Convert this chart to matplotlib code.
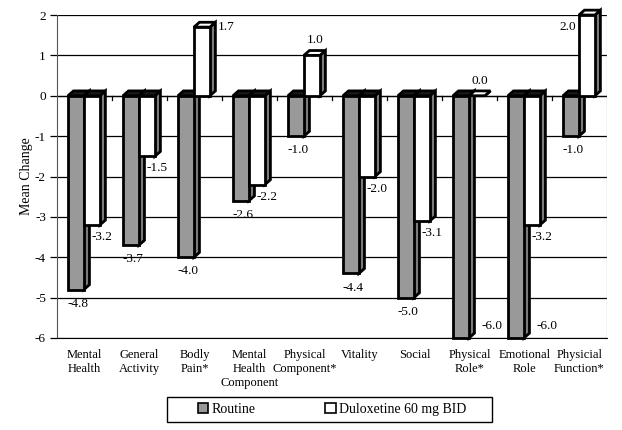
import matplotlib
matplotlib.use('Agg')
from matplotlib import pyplot as plt
from matplotlib.patches import Polygon, Rectangle, Patch

plt.rcParams['font.family'] = ['Liberation Serif', 'DejaVu Serif']

categories = ['Mental\nHealth', 'General\nActivity', 'Bodly\nPain*', 'Mental\nHealth\nComponent',
              'Physical\nComponent*', 'Vitality', 'Social', 'Physical\nRole*', 'Emotional\nRole',
              'Physicial\nFunction*']
routine = [-4.8, -3.7, -4.0, -2.6, -1.0, -4.4, -5.0, -6.0, -6.0, -1.0]
duloxetine = [-3.2, -1.5, 1.7, -2.2, 1.0, -2.0, -3.1, 0.0, -3.2, 2.0]
series_names = ['Routine', 'Duloxetine 60 mg BID']
y_ticks = [2, 1, 0, -1, -2, -3, -4, -5, -6]

GRAY = '#999999'
SIDE = '#7a7a7a'
BAR_W = 0.29
DX, DY = 0.1, 0.12   # fake 3d depth


def draw_bar(ax, x0, v, face):
    top = max(v, 0)
    bot = min(v, 0)
    kw = dict(edgecolor='black', linewidth=2.0, joinstyle='miter', clip_on=False)
    # side face
    ax.add_patch(Polygon([(x0 + BAR_W, bot), (x0 + BAR_W, top), (x0 + BAR_W + DX, top + DY),
                          (x0 + BAR_W + DX, bot + DY)], facecolor=SIDE, zorder=3, **kw))
    # top face
    top_color = '#1a1a1a' if v < 0 else 'white'
    ax.add_patch(Polygon([(x0, top), (x0 + BAR_W, top), (x0 + BAR_W + DX, top + DY),
                          (x0 + DX, top + DY)], facecolor=top_color, zorder=3, **kw))
    # front face
    if v != 0:
        ax.add_patch(Rectangle((x0, bot), BAR_W, top - bot, facecolor=face, zorder=3, **kw))


fig = plt.figure(figsize=(6.22, 4.30), dpi=100)
ax = fig.add_axes([57 / 622, 1 - 338 / 430, 550 / 622, 323 / 430])

ax.set_xlim(0, len(categories))
ax.set_ylim(-6, 2)
ax.set_yticks(y_ticks)
ax.set_yticklabels([str(t) for t in y_ticks], fontsize=9.5)
ax.grid(axis='y', color='black', linewidth=0.9)
ax.set_axisbelow(True)
ax.tick_params(axis='y', length=5, width=0.9, pad=3)

ax.set_xticks([i + 0.5 for i in range(len(categories))])
ax.set_xticklabels(categories, fontsize=9, linespacing=1.2)
ax.tick_params(axis='x', length=0, pad=8)

for side in ['top', 'right']:
    ax.spines[side].set_visible(False)
ax.spines['left'].set_color('#555555')
ax.spines['bottom'].set_color('black')
ax.axvline(len(categories), color='#aaaaaa', linewidth=0.9)

# zero line with category ticks
ax.axhline(0, color='black', linewidth=0.9, zorder=2)
for i in range(1, len(categories)):
    ax.plot([i, i], [0, -0.1], color='black', linewidth=0.9, zorder=2)

ax.set_ylabel('Mean Change', fontsize=10, labelpad=1)

for i in range(len(categories)):
    xg = i + 0.2
    xw = xg + BAR_W
    draw_bar(ax, xg, routine[i], GRAY)
    draw_bar(ax, xw, duloxetine[i], 'white')

    r = routine[i]
    if r <= -6:
        ax.text(xg + BAR_W + DX + 0.12, r + 0.3, '%.1f' % r, fontsize=9.5, ha='left', va='center', zorder=5)
    else:
        ax.text(xg + BAR_W / 2 + 0.03, r - 0.35, '%.1f' % r, fontsize=9.5, ha='center', va='center', zorder=5)

    d = duloxetine[i]
    if d < 0:
        ax.text(xw + BAR_W / 2, d - 0.3, '%.1f' % d, fontsize=9.5, ha='left', va='center', zorder=5)
    elif d >= 2:
        ax.text(xw - 0.05, d - 0.29, '%.1f' % d, fontsize=9.5, ha='right', va='center', zorder=5)
    elif d > 1.5:
        ax.text(xw + BAR_W + DX + 0.05, d, '%.1f' % d, fontsize=9.5, ha='left', va='center', zorder=5)
    else:
        ax.text(xw + BAR_W / 2 + 0.05, d + 0.37, '%.1f' % d, fontsize=9.5, ha='center', va='center', zorder=5)

# legend with its own box
fig.patches.append(Rectangle((167 / 622, 1 - 422 / 430), 325 / 622, 25 / 430,
                             transform=fig.transFigure, facecolor='white', edgecolor='black',
                             linewidth=1.0))
handles = [Patch(facecolor=GRAY, edgecolor='black', linewidth=1.2),
           Patch(facecolor='white', edgecolor='black', linewidth=1.2)]
fig.legend(handles, series_names, loc='center', bbox_to_anchor=(332 / 622, 1 - 409.5 / 430),
           ncol=2, frameon=False, fontsize=10, handlelength=0.75, handleheight=0.75,
           handletextpad=0.25, columnspacing=5.0)

fig.savefig('out.png', dpi=100)
